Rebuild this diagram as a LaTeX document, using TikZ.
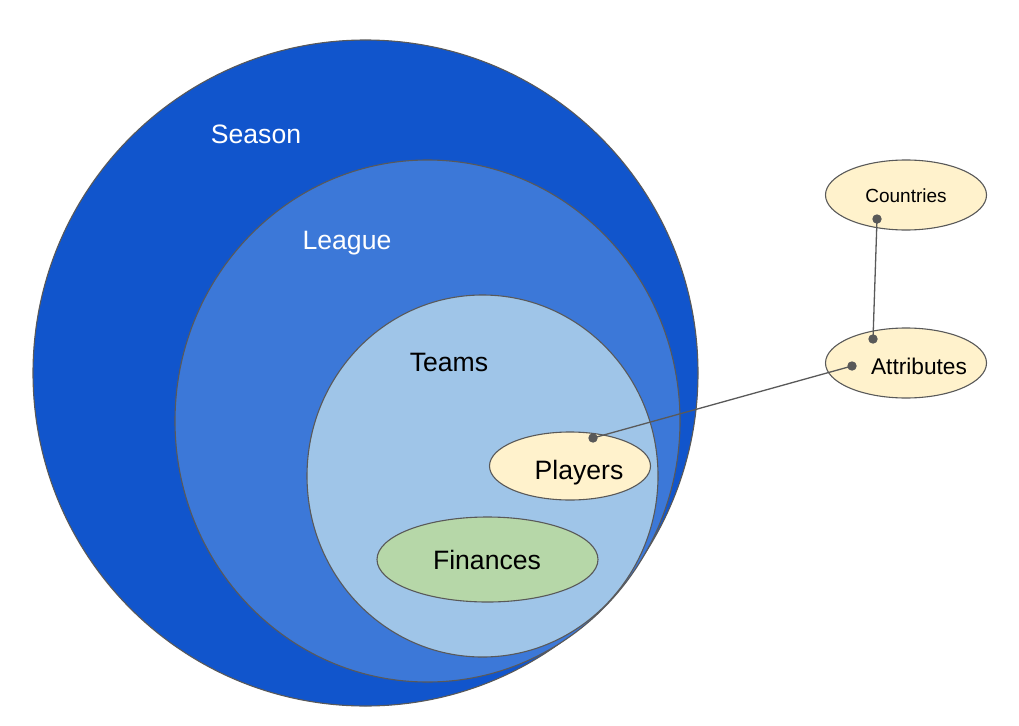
\documentclass[tikz,border=0pt]{standalone}
\usepackage{fontspec}
\setmainfont{Liberation Sans}
\usetikzlibrary{shapes.geometric}
\definecolor{seasonblue}{HTML}{1155CC}
\definecolor{leagueblue}{HTML}{3C78D8}
\definecolor{teamsblue}{HTML}{9FC5E8}
\definecolor{paleyellow}{HTML}{FFF2CC}
\definecolor{palegreen}{HTML}{B6D7A8}
\definecolor{edgegray}{HTML}{595959}
\begin{document}
\begin{tikzpicture}[x=1pt,y=-1pt,
  oval/.style={ellipse, draw=edgegray, line width=1.1pt, inner sep=0pt},
  bigtext/.style={font=\fontsize{26.6}{30}\selectfont, inner sep=0pt},
  conn/.style={draw=edgegray, line width=1.3pt},
  dotmark/.style={fill=edgegray}]
\useasboundingbox (0,0) rectangle (1019,725);
\node[oval, fill=seasonblue, minimum width=665pt, minimum height=666pt] (season) at (365.5,373) {};
\node[oval, fill=leagueblue, minimum width=505pt, minimum height=522pt] (league) at (427.5,421) {};
\node[oval, fill=teamsblue, minimum width=351pt, minimum height=362pt] (teams) at (482.5,476) {};
\node[oval, fill=paleyellow, minimum width=161pt, minimum height=68pt] (players) at (570,466) {};
\node[oval, fill=palegreen, minimum width=221pt, minimum height=85pt] (finances) at (487.5,559.5) {};
\node[oval, fill=paleyellow, minimum width=161pt, minimum height=70pt] (countries) at (906,195) {};
\node[oval, fill=paleyellow, minimum width=161pt, minimum height=70pt] (attributes) at (906,363) {};

\node[bigtext, text=white] (seasonlbl) at (256,134) {Season};
\node[bigtext, text=white] (leaguelbl) at (347,243) {League};
\node[bigtext] (teamslbl) at (449,362.5) {Teams};
\node[bigtext] (playerslbl) at (579,472.5) {Players};
\node[bigtext] (financeslbl) at (487,559.5) {Finances};
\node[font=\fontsize{19}{22}\selectfont, inner sep=0pt] (countrieslbl) at (906,195.5) {Countries};
\node[font=\fontsize{22.7}{26}\selectfont, inner sep=0pt] (attributeslbl) at (919,366) {Attributes};

\coordinate (cdot) at (877,219);
\coordinate (atdot) at (873,339);
\coordinate (aldot) at (852,366);
\coordinate (pdot) at (593,438);

\draw[conn] (cdot) -- (atdot);
\draw[conn] (aldot) -- (pdot);
\foreach \p in {cdot,atdot,aldot,pdot} \fill[dotmark] (\p) circle (4.7pt);
\end{tikzpicture}
\end{document}
